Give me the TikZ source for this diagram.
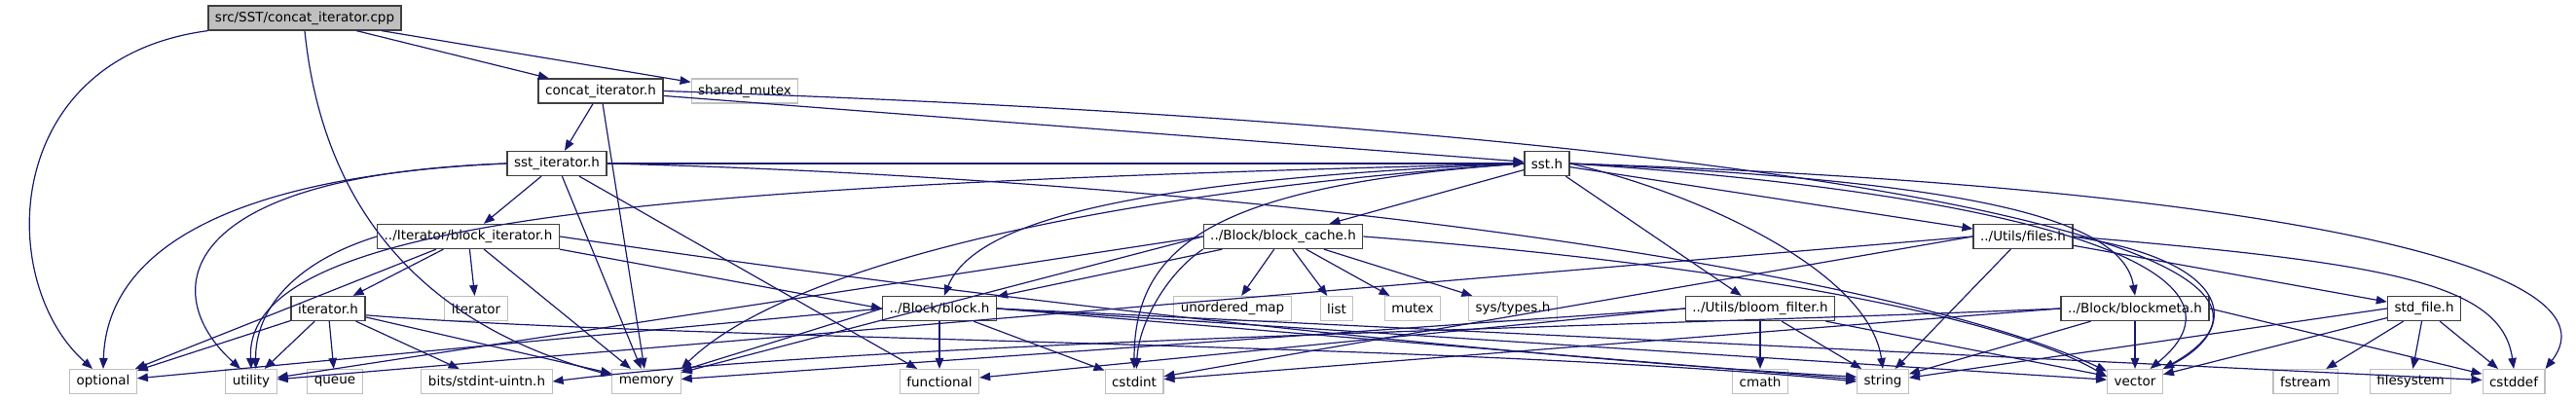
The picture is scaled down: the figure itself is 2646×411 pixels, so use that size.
\documentclass[tikz,border=0pt]{standalone}
\usepackage{fontspec}
\setmainfont{DejaVu Sans}
\usepackage{tikz}
\usepackage{xcolor}
\usetikzlibrary{arrows.meta}
\definecolor{edgeblue}{RGB}{25, 25, 112}
\definecolor{sysgray}{RGB}{191, 191, 191}
\definecolor{boxline}{RGB}{64, 64, 64}

\begin{document}
\begin{tikzpicture}[x=1pt,y=-1pt,
      hdr/.style={rectangle,draw=boxline,line width=1.3pt,fill=white,
        minimum height=25pt,inner xsep=7pt,inner ysep=0pt,font=\fontsize{13.5}{16}\selectfont},
      sys/.style={hdr,draw=sysgray,line width=1.1pt},
      src/.style={hdr,fill=sysgray},
      edge/.style={edgeblue,line width=1.2pt,-{Triangle[length=11pt,width=8.5pt]}}
    ]
    \useasboundingbox (0,0) rectangle (2646,411);
    % files of the project
    \node[src] (root) at (313,18.5) {src/SST/concat\_iterator.cpp};
    \node[hdr] (cih) at (617,93.5) {concat\_iterator.h};
    \node[sys] (shm) at (765,93.5) {shared\_mutex};
    \node[hdr] (ssti) at (572,168) {sst\_iterator.h};
    \node[hdr] (ssth) at (1589,168) {sst.h};
    \node[hdr] (blki) at (481,243) {../Iterator/block\_iterator.h};
    \node[hdr] (blkc) at (1318,243) {../Block/block\_cache.h};
    \node[hdr] (files) at (2078,243) {../Utils/files.h};
    \node[hdr] (ith) at (337,317) {iterator.h};
    \node[sys] (itr) at (489,317) {iterator};
    \node[hdr] (blk) at (965,317) {../Block/block.h};
    \node[sys] (umap) at (1266,317) {unordered\_map};
    \node[sys] (lst) at (1373,317) {list};
    \node[sys] (mtx) at (1451,317) {mutex};
    \node[sys] (syst) at (1554,317) {sys/types.h};
    \node[hdr] (bloom) at (1808,317) {../Utils/bloom\_filter.h};
    \node[hdr] (meta) at (2193,317) {../Block/blockmeta.h};
    \node[hdr] (stdf) at (2490,317) {std\_file.h};
    % system headers
    \node[sys] (optional) at (106,392) {optional};
    \node[sys] (utility) at (258,392) {utility};
    \node[sys] (queue) at (344,392) {queue};
    \node[sys] (bits) at (500,392) {bits/stdint-uintn.h};
    \node[sys] (memory) at (664,392) {memory};
    \node[sys] (functional) at (965,392) {functional};
    \node[sys] (cstdint) at (1165,392) {cstdint};
    \node[sys] (cmath) at (1808,392) {cmath};
    \node[sys] (string) at (1934,392) {string};
    \node[sys] (vector) at (2193,392) {vector};
    \node[sys] (fstream) at (2368,392) {fstream};
    \node[sys] (filesystem) at (2476,392) {filesystem};
    \node[sys] (cstddef) at (2582,392) {cstddef};

    % concat_iterator.cpp
    \draw[edge] (root) -- (cih);
    \draw[edge] (root) -- (shm);
    \draw[edge] (root.south west) .. controls (0,60) and (-5,290) .. (optional.130);
    \draw[edge] (root.south) .. controls (330,200) and (420,330) .. (memory.170);

    % concat_iterator.h
    \draw[edge] (cih) -- (ssti);
    \draw[edge] (cih) -- (memory);
    \draw[edge] (cih) -- (ssth);
    \draw[edge] (cih.east) .. controls (1800,130) and (2450,250) .. (vector.north east);

    % sst_iterator.h
    \draw[edge] (ssti) -- (blki);
    \draw[edge] (ssti) -- (memory);
    \draw[edge] (ssti) -- (functional);
    \draw[edge] (ssti) -- (ssth);
    \draw[edge] (ssti.west) .. controls (250,180) and (110,250) .. (optional.north);
    \draw[edge] (ssti.west) .. controls (180,180) and (160,300) .. (utility.130);
    \draw[edge] (ssti.east) .. controls (1300,185) and (1950,280) .. (vector.160);

    % sst.h
    \draw[edge] (ssth) -- (blkc);
    \draw[edge] (ssth) -- (bloom);
    \draw[edge] (ssth) -- (files);
    \draw[edge] (ssth.west) .. controls (1150,185) and (1000,230) .. (blk.70);
    \draw[edge] (ssth.west) .. controls (1100,200) and (800,280) .. (memory.north east);
    \draw[edge] (ssth.west) .. controls (700,190) and (250,220) .. (utility.north);
    \draw[edge] (ssth.west) .. controls (1250,190) and (1165,250) .. (cstdint.north);
    \draw[edge] (ssth.east) .. controls (1750,200) and (1920,280) .. (string.north);
    \draw[edge] (ssth.east) .. controls (2000,185) and (2180,220) .. (meta.north);
    \draw[edge] (ssth.east) .. controls (2100,200) and (2330,280) .. (vector.40);
    \draw[edge] (ssth.east) .. controls (2300,190) and (2700,270) .. (cstddef.north east);

    % block_iterator.h
    \draw[edge] (blki) -- (ith);
    \draw[edge] (blki) -- (itr);
    \draw[edge] (blki) -- (memory);
    \draw[edge] (blki) -- (optional);
    \draw[edge] (blki.south east) -- (blk.west);
    \draw[edge] (blki.east) .. controls (1100,320) and (1600,370) .. (string.170);
    \draw[edge] (blki.west) .. controls (300,270) and (262,320) .. (utility.70);

    % iterator.h
    \draw[edge] (ith) -- (optional);
    \draw[edge] (ith) -- (utility);
    \draw[edge] (ith) -- (queue);
    \draw[edge] (ith) -- (bits);
    \draw[edge] (ith) -- (memory);
    \draw[edge] (ith.-10) .. controls (700,350) and (1500,352) .. (string.west);

    % block_cache.h
    \draw[edge] (blkc) -- (blk);
    \draw[edge] (blkc) -- (umap);
    \draw[edge] (blkc) -- (lst);
    \draw[edge] (blkc) -- (mtx);
    \draw[edge] (blkc) -- (syst);
    \draw[edge] (blkc.west) -- (memory);
    \draw[edge] (blkc.west) -- (utility);
    \draw[edge] (blkc.east) .. controls (1750,270) and (2050,320) .. (vector.170);
    \draw[edge] (blkc.south west) .. controls (1200,280) and (1170,330) .. (cstdint.80);

    % block.h
    \draw[edge] (blk) -- (functional);
    \draw[edge] (blk) -- (cstdint);
    \draw[edge] (blk.west) -- (memory);
    \draw[edge] (blk.west) -- (optional);
    \draw[edge] (blk.east) -- (string);
    \draw[edge] (blk.east) -- (vector);
    \draw[edge] (blk.east) -- (cstddef);

    % bloom_filter.h
    \draw[edge] (bloom) -- (cmath);
    \draw[edge] (bloom) -- (string);
    \draw[edge] (bloom) -- (vector);
    \draw[edge] (bloom.west) -- (functional);
    \draw[edge] (bloom.west) -- (memory);

    % files.h
    \draw[edge] (files) -- (stdf);
    \draw[edge] (files) -- (string);
    \draw[edge] (files.west) -- (utility);
    \draw[edge] (files.west) -- (cstdint);
    \draw[edge] (files.east) .. controls (2300,270) and (2300,340) .. (vector.north east);
    \draw[edge] (files.east) .. controls (2450,270) and (2570,290) .. (cstddef.north);

    % blockmeta.h
    \draw[edge] (meta) -- (vector);
    \draw[edge] (meta) -- (string);
    \draw[edge] (meta.east) -- (cstddef);
    \draw[edge] (meta.west) -- (cstdint);
    \draw[edge] (meta.west) .. controls (1700,335) and (900,350) .. (bits.east);

    % std_file.h
    \draw[edge] (stdf) -- (fstream);
    \draw[edge] (stdf) -- (filesystem);
    \draw[edge] (stdf) -- (cstddef);
    \draw[edge] (stdf) -- (vector);
    \draw[edge] (stdf.west) -- (string);
\end{tikzpicture}
\end{document}
